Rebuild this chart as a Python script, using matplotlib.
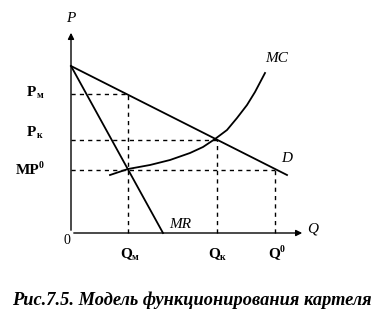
import matplotlib
matplotlib.use('Agg')
import matplotlib.pyplot as plt

# coordinates: origin of the chart at (0, 0), units ~ pixels
D_X = [0, 216]
D_Y = [167, 58]
MR_X = [0, 92]
MR_Y = [167, 0]
MC_X = [39, 57, 79, 99, 119, 132, 144, 156, 166, 176, 184, 194]
MC_Y = [58, 64, 68, 73, 80, 86, 94, 103, 115, 128, 141, 160]

P_M, Q_M = 139, 57        # монопольная цена / объём
P_K, Q_K = 93, 146        # картельная цена / объём
MP0, Q0 = 63, 204         # конкурентный уровень

SERIF = 'Liberation Serif'
LW = 1.3

fig = plt.figure(figsize=(3.86, 3.29), dpi=100)
ax = fig.add_axes([0, 0, 1, 1])
ax.set_xlim(-71, 315)
ax.set_ylim(-96, 233)
ax.axis('off')

# оси
ax.annotate('', xy=(0, 203), xytext=(0, 0),
            arrowprops=dict(arrowstyle='-|>', color='black', lw=1.0,
                            mutation_scale=9))
ax.annotate('', xy=(234, 0), xytext=(0, 0),
            arrowprops=dict(arrowstyle='-|>', color='black', lw=1.0,
                            mutation_scale=9))

# кривые
ax.plot(D_X, D_Y, color='black', lw=LW)
ax.plot(MR_X, MR_Y, color='black', lw=LW)
ax.plot(MC_X, MC_Y, color='black', lw=LW, solid_joinstyle='round')

# пунктиры
dash = dict(color='black', lw=1.0, linestyle=(0, (3, 3)))
for q, p in [(Q_M, P_M), (Q_K, P_K), (Q0, MP0)]:
    ax.plot([0, q], [p, p], **dash)
    ax.plot([q, q], [0, p], **dash)

# подписи осей и кривых
it = dict(family=SERIF, style='italic', fontsize=11, color='black')
ax.text(0, 215, 'P', ha='center', va='center', **it)
ax.text(242, 4, 'Q', ha='center', va='center', **it)
ax.text(-4, -7, '0', ha='center', va='center', family=SERIF, fontsize=10)
ax.text(206, 175, 'MC', ha='center', va='center', **it)
ax.text(216, 75, 'D', ha='center', va='center', **it)
ax.text(109, 8, 'MR', ha='center', va='center', **it)

bold = dict(family=SERIF, weight='bold', fontsize=11, color='black')
sub = dict(family=SERIF, weight='bold', fontsize=7, color='black')

# P-метки слева
ax.text(-40, P_M + 1, 'P', ha='center', va='center', **bold)
ax.text(-34, P_M - 2, 'м', ha='left', va='center', **sub)
ax.text(-40, P_K + 8, 'P', ha='center', va='center', **bold)
ax.text(-34, P_K + 5, 'к', ha='left', va='center', **sub)
ax.text(-32, MP0, 'MP', ha='right', va='center', **bold)
ax.text(-32, MP0 + 5, '0', ha='left', va='center', **sub)

# Q-метки снизу
ax.text(Q_M - 2, -21, 'Q', ha='center', va='center', **bold)
ax.text(Q_M + 4, -24, 'м', ha='left', va='center', **sub)
ax.text(Q_K - 3, -21, 'Q', ha='center', va='center', **bold)
ax.text(Q_K + 3, -24, 'к', ha='left', va='center', **sub)
ax.text(Q0 - 1, -21, 'Q', ha='center', va='center', **bold)
ax.text(Q0 + 5, -16, '0', ha='left', va='center', **sub)

# подпись рисунка
ax.text(121, -67, 'Рис.7.5. Модель функционирования картеля',
        ha='center', va='center', family=SERIF, style='italic',
        weight='bold', fontsize=13.2)

fig.savefig('out.png', dpi=100, facecolor='white')
